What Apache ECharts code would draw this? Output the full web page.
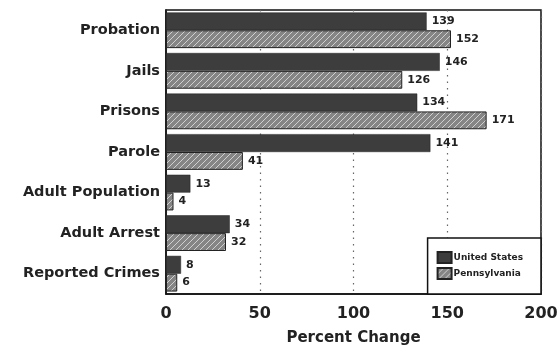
<!DOCTYPE html>
<html>
<head>
<meta charset="utf-8">
<script src="https://cdn.jsdelivr.net/npm/echarts@6/dist/echarts.min.js"></script>
<style>
  html, body { margin: 0; padding: 0; background: #fff; }
  #chart { width: 558px; height: 354px; }
</style>
</head>
<body>
<div id="chart"></div>
<script>
// Percent change in corrections population, by category
const categories = ['Probation', 'Jails', 'Prisons', 'Parole', 'Adult Population', 'Adult Arrest', 'Reported Crimes'];
const unitedStates = [139, 146, 134, 141, 13, 34, 8];
const pennsylvania = [152, 126, 171, 41, 4, 32, 6];
const xTicks = [0, 50, 100, 150, 200];

// diagonal hatch fill for the Pennsylvania bars
function hatch() {
  const c = document.createElement('canvas');
  c.width = 6; c.height = 6;
  const g = c.getContext('2d');
  g.fillStyle = '#858585';
  g.fillRect(0, 0, 6, 6);
  g.strokeStyle = '#d0d0d0';
  g.lineWidth = 1;
  g.beginPath();
  g.moveTo(0, 6); g.lineTo(6, 0);
  g.moveTo(-3, 3); g.lineTo(3, -3);
  g.moveTo(3, 9); g.lineTo(9, 3);
  g.stroke();
  return c;
}

const font = '"DejaVu Sans", "Liberation Sans", Arial, sans-serif';
const chart = echarts.init(document.getElementById('chart'));
chart.setOption({
  animation: false,
  grid: { left: 166, right: 17, top: 10, bottom: 60, show: true, borderColor: '#111', borderWidth: 1.5,
    containLabel: false, outerBoundsMode: 'none' },
  legend: {
    data: ['United States', 'Pennsylvania'],
    orient: 'vertical',
    right: 17, bottom: 60,
    icon: 'rect',
    itemWidth: 14, itemHeight: 11, itemGap: 3,
    padding: [13, 18, 14, 9],
    backgroundColor: '#fff',
    borderColor: '#111', borderWidth: 1.5,
    textStyle: { fontFamily: font, fontWeight: 'bold', fontSize: 9, color: '#222', padding: [0, 0, 0, -3] }
  },
  xAxis: {
    type: 'value', min: 0, max: 200, interval: 50,
    name: 'Percent Change', nameLocation: 'middle', nameGap: 37,
    nameTextStyle: { fontFamily: font, fontWeight: 'bold', fontSize: 15, color: '#222' },
    axisLine: { show: true, lineStyle: { color: '#111', width: 1.5 } },
    axisTick: { show: false },
    axisLabel: { fontFamily: font, fontWeight: 'bold', fontSize: 16, color: '#222', margin: 12,
      formatter: v => xTicks.includes(v) ? String(v) : '' },
    splitLine: { show: true, lineStyle: { color: '#666', type: [1.5, 5], width: 1.2 } }
  },
  yAxis: {
    type: 'category', data: categories, inverse: true,
    axisLine: { show: true, lineStyle: { color: '#111', width: 1.5 } },
    axisTick: { show: false },
    axisLabel: { fontFamily: font, fontWeight: 'bold', fontSize: 14.5, color: '#222', margin: 6 }
  },
  series: [
    {
      name: 'United States', type: 'bar', data: unitedStates,
      barGap: '0%', barCategoryGap: '12%',
      itemStyle: { color: '#3d3d3d', borderColor: '#222', borderWidth: 0.5 },
      label: { show: true, position: 'right', distance: 5, fontFamily: font, fontWeight: 'bold', fontSize: 11, color: '#222' }
    },
    {
      name: 'Pennsylvania', type: 'bar', data: pennsylvania,
      itemStyle: { color: { image: hatch(), repeat: 'repeat' }, borderColor: '#222', borderWidth: 1 },
      label: { show: true, position: 'right', distance: 5, fontFamily: font, fontWeight: 'bold', fontSize: 11, color: '#222' }
    }
  ]
});
</script>
</body>
</html>
